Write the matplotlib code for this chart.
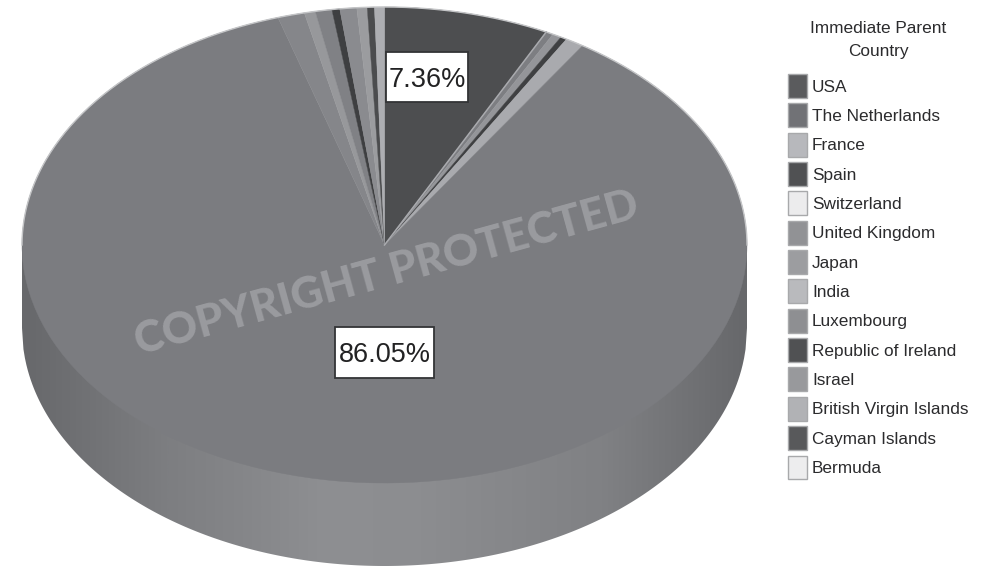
import numpy as np
import matplotlib
matplotlib.use('Agg')
import matplotlib.pyplot as plt
from matplotlib.colors import LinearSegmentedColormap
from matplotlib.patches import Patch, Polygon, Rectangle

W, H = 991, 566
FONT = ['Liberation Sans', 'DejaVu Sans']

# legend order
countries = ['USA', 'The Netherlands', 'France', 'Spain', 'Switzerland',
             'United Kingdom', 'Japan', 'India', 'Luxembourg',
             'Republic of Ireland', 'Israel', 'British Virgin Islands',
             'Cayman Islands', 'Bermuda']
shares = [7.36, 86.05, 0.83, 0.28, 0.40, 0.33, 1.20, 0.49, 0.74, 0.35, 0.75,
          0.46, 0.32, 0.44]
legend_colors = ['#5a5b5d', '#717276', '#b7b8bc', '#505153', '#ececed',
                 '#919295', '#9c9da0', '#b9babd', '#8e8f92', '#505153',
                 '#98999c', '#b1b2b5', '#58595b', '#ededee']
slice_colors = ['#4d4e50', '#7b7c80', '#a9aaae', '#3f4042', '#949599',
                '#7d7e82', '#85868a', '#97989b', '#808185', '#3e3f41',
                '#8a8b8f', '#9b9c9f', '#4b4c4e', '#adaeb2']

# clockwise from 12 o'clock
clockwise = ['USA', 'United Kingdom', 'Switzerland', 'Spain', 'France',
             'The Netherlands', 'Japan', 'India', 'Luxembourg',
             'Republic of Ireland', 'Israel', 'British Virgin Islands',
             'Cayman Islands', 'Bermuda']

# pie geometry in pixels of the picture
CX, CY, RX, RY, DEPTH = 384.5, 245, 362.5, 238, 83
depth = DEPTH / RY

wall_stops = ['#67686b', '#7d7e81', '#8e8f92', '#8c8d90', '#808184', '#67686b']
wall_pos = [0.0, 0.2, 0.42, 0.55, 0.8, 1.0]

fig = plt.figure(figsize=(W / 100, H / 100), dpi=100)
ax = fig.add_axes([0, 0, 1, 1])

idx = [countries.index(c) for c in clockwise]
vals = [shares[i] for i in idx]
cols = [slice_colors[i] for i in idx]
wedges, _ = ax.pie(vals, colors=cols, startangle=90, counterclock=False,
                   radius=1, normalize=True,
                   wedgeprops={'linewidth': 0.3, 'zorder': 3})
for w, c in zip(wedges, cols):
    w.set_edgecolor(c)

# side of the cylinder
xs = np.linspace(-1, 1, 500)
wall = np.concatenate([np.column_stack([xs, -np.sqrt(1 - xs**2) - depth]),
                       [[1, 0], [-1, 0]]])
cmap = LinearSegmentedColormap.from_list('wall', list(zip(wall_pos, wall_stops)))
im = ax.imshow(np.linspace(0, 1, 512)[None, :], cmap=cmap, aspect='auto',
               extent=(-1, 1, -1 - depth, 0), zorder=1)
im.set_clip_path(Polygon(wall, transform=ax.transData))

# light rim on the far half and along the USA edge
t = np.linspace(0, np.pi, 300)
ax.plot(np.cos(t), np.sin(t), color='#c4c5c7', lw=1, zorder=4)
usa_end = 2 * np.pi * shares[0] / sum(shares)
ax.plot([0, np.sin(usa_end)], [0, np.cos(usa_end)], color='#a9aaae', lw=1.1,
        zorder=4)

ax.set_xlim(-CX / RX, (W - CX) / RX)
ax.set_ylim((CY - H) / RY, CY / RY)
ax.set_aspect('auto')
ax.axis('off')

# watermark
fig.text(387 / W, 1 - 273 / H, 'COPYRIGHT PROTECTED', color='#9a9b9f',
         fontsize=31.4, fontweight=900, family=['Lato', 'DejaVu Sans'],
         rotation=15.4, rotation_mode='anchor', ha='center', va='center')


# value boxes, given as left, top, right, bottom in pixels
def value_box(left, top, right, bottom, value):
    fig.add_artist(Rectangle((left / W, 1 - bottom / H), (right - left) / W,
                             (bottom - top) / H, transform=fig.transFigure,
                             fc='white', ec='#333436', lw=1.3))
    fig.text((left + right) / 2 / W, 1 - (top + bottom) / 2 / H, '%.2f%%' % value,
             fontsize=19.5, color='#222223', family=FONT, ha='center',
             va='center_baseline')


value_box(386, 52, 468, 102, shares[0])
value_box(335, 327, 434, 378, shares[1])

# legend
handles = [Patch(facecolor=c, edgecolor='#a8a9ab', lw=1) for c in legend_colors]
leg = fig.legend(handles, countries, title='Immediate Parent\nCountry',
                 loc='upper left', bbox_to_anchor=(788 / W, 1 - 21 / H),
                 frameon=False, labelspacing=0.321, handlelength=1.1,
                 handleheight=1.75, handletextpad=0.3, borderpad=0,
                 borderaxespad=0, prop={'family': FONT, 'size': 12.4},
                 title_fontproperties={'family': FONT, 'size': 12.4})
for txt in leg.get_texts():
    txt.set_color('#2b2b2d')
leg.get_title().set_color('#2b2b2d')
leg.get_title().set_multialignment('center')
leg.get_title().set_linespacing(1.63)
leg._legend_box.sep = 11.2

fig.savefig('out.png', dpi=100)
